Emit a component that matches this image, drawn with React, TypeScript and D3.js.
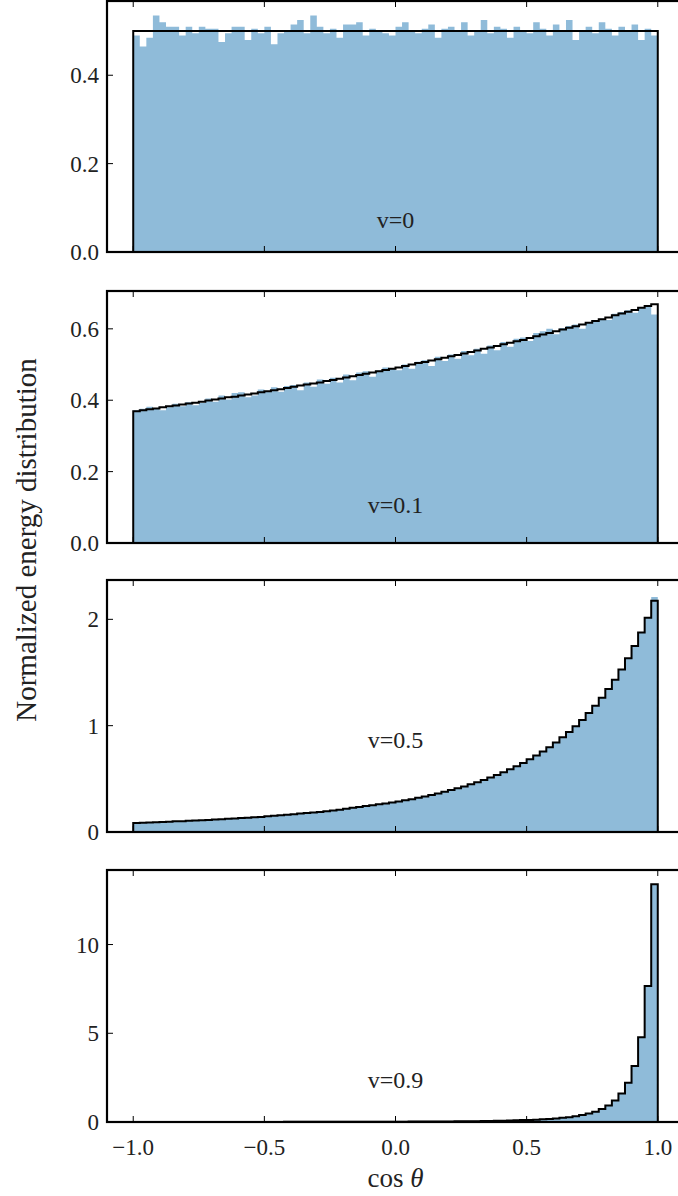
import React from "react";
import * as d3 from "d3";

// 80 bins on [-1, 1]
const binEdges: number[] = d3.range(81).map((i) => -1 + i * 0.025);

const blue0 = [
  0.49, 0.465, 0.485, 0.535, 0.52, 0.51, 0.51, 0.49, 0.51, 0.495,
  0.51, 0.505, 0.505, 0.475, 0.495, 0.51, 0.51, 0.48, 0.505, 0.495,
  0.51, 0.47, 0.495, 0.5, 0.515, 0.525, 0.495, 0.535, 0.51, 0.495,
  0.505, 0.485, 0.515, 0.515, 0.52, 0.49, 0.505, 0.5, 0.495, 0.49,
  0.51, 0.52, 0.5, 0.495, 0.505, 0.515, 0.485, 0.505, 0.51, 0.5,
  0.52, 0.49, 0.5, 0.525, 0.495, 0.51, 0.505, 0.485, 0.51, 0.5,
  0.495, 0.52, 0.505, 0.49, 0.515, 0.5, 0.525, 0.48, 0.5, 0.51,
  0.495, 0.52, 0.505, 0.49, 0.51, 0.5, 0.515, 0.48, 0.505, 0.49,
];
const line0 = [
  0.5, 0.5, 0.5, 0.5, 0.5, 0.5, 0.5, 0.5, 0.5, 0.5,
  0.5, 0.5, 0.5, 0.5, 0.5, 0.5, 0.5, 0.5, 0.5, 0.5,
  0.5, 0.5, 0.5, 0.5, 0.5, 0.5, 0.5, 0.5, 0.5, 0.5,
  0.5, 0.5, 0.5, 0.5, 0.5, 0.5, 0.5, 0.5, 0.5, 0.5,
  0.5, 0.5, 0.5, 0.5, 0.5, 0.5, 0.5, 0.5, 0.5, 0.5,
  0.5, 0.5, 0.5, 0.5, 0.5, 0.5, 0.5, 0.5, 0.5, 0.5,
  0.5, 0.5, 0.5, 0.5, 0.5, 0.5, 0.5, 0.5, 0.5, 0.5,
  0.5, 0.5, 0.5, 0.5, 0.5, 0.5, 0.5, 0.5, 0.5, 0.5,
];

const line1 = [
  0.369, 0.372, 0.375, 0.377, 0.38, 0.383, 0.385, 0.388, 0.391, 0.393,
  0.396, 0.399, 0.402, 0.405, 0.408, 0.41, 0.413, 0.416, 0.419, 0.422,
  0.425, 0.428, 0.431, 0.434, 0.438, 0.441, 0.444, 0.447, 0.45, 0.454,
  0.457, 0.46, 0.464, 0.467, 0.471, 0.474, 0.478, 0.481, 0.485, 0.488,
  0.492, 0.496, 0.5, 0.504, 0.507, 0.511, 0.515, 0.519, 0.523, 0.527,
  0.531, 0.535, 0.539, 0.544, 0.548, 0.552, 0.557, 0.561, 0.565, 0.569,
  0.574, 0.579, 0.584, 0.588, 0.593, 0.598, 0.603, 0.607, 0.612, 0.617,
  0.622, 0.627, 0.632, 0.638, 0.643, 0.648, 0.653, 0.659, 0.664, 0.669,
];
const blue1 = [
  0.372, 0.376, 0.382, 0.376, 0.372, 0.38, 0.39, 0.383, 0.394, 0.386,
  0.392, 0.405, 0.396, 0.413, 0.402, 0.42, 0.422, 0.408, 0.413, 0.43,
  0.423, 0.436, 0.424, 0.44, 0.443, 0.428, 0.45, 0.438, 0.458, 0.446,
  0.463, 0.45, 0.472, 0.456, 0.478, 0.481, 0.466, 0.483, 0.492, 0.49,
  0.484, 0.5, 0.488, 0.508, 0.512, 0.496, 0.522, 0.51, 0.528, 0.516,
  0.538, 0.526, 0.544, 0.53, 0.553, 0.54, 0.563, 0.55, 0.572, 0.576,
  0.566, 0.588, 0.593, 0.6, 0.585, 0.602, 0.608, 0.612, 0.6, 0.618,
  0.624, 0.628, 0.625, 0.642, 0.647, 0.652, 0.645, 0.66, 0.662, 0.64,
];

const line2 = [
  0.085, 0.087, 0.09, 0.092, 0.095, 0.097, 0.1, 0.102, 0.105, 0.107,
  0.11, 0.114, 0.117, 0.121, 0.124, 0.128, 0.131, 0.135, 0.139, 0.142,
  0.147, 0.152, 0.157, 0.163, 0.168, 0.173, 0.179, 0.184, 0.189, 0.195,
  0.202, 0.21, 0.218, 0.227, 0.235, 0.244, 0.252, 0.26, 0.269, 0.277,
  0.287, 0.298, 0.309, 0.322, 0.335, 0.348, 0.363, 0.378, 0.394, 0.411,
  0.429, 0.448, 0.468, 0.49, 0.512, 0.537, 0.562, 0.59, 0.619, 0.65,
  0.684, 0.719, 0.758, 0.798, 0.842, 0.89, 0.94, 0.995, 1.054, 1.118,
  1.187, 1.262, 1.344, 1.432, 1.529, 1.634, 1.749, 1.876, 2.015, 2.175,
];
const blue2 = [
  0.085, 0.087, 0.09, 0.092, 0.095, 0.097, 0.1, 0.102, 0.105, 0.107,
  0.11, 0.114, 0.117, 0.121, 0.124, 0.128, 0.131, 0.135, 0.139, 0.142,
  0.147, 0.152, 0.157, 0.163, 0.168, 0.173, 0.179, 0.184, 0.189, 0.195,
  0.202, 0.21, 0.218, 0.227, 0.235, 0.244, 0.252, 0.26, 0.269, 0.277,
  0.287, 0.298, 0.309, 0.322, 0.335, 0.348, 0.363, 0.378, 0.394, 0.411,
  0.429, 0.448, 0.468, 0.49, 0.512, 0.537, 0.562, 0.59, 0.619, 0.65,
  0.684, 0.719, 0.758, 0.798, 0.842, 0.89, 0.94, 0.995, 1.054, 1.118,
  1.187, 1.262, 1.344, 1.432, 1.529, 1.634, 1.749, 1.876, 2.015, 2.21,
];

const line3 = [
  0.0027, 0.0028, 0.0029, 0.003, 0.0031, 0.0032, 0.0034, 0.0035, 0.0037, 0.0038,
  0.004, 0.0042, 0.0044, 0.0046, 0.0048, 0.005, 0.0052, 0.0055, 0.0057, 0.006,
  0.0063, 0.0067, 0.007, 0.0074, 0.0078, 0.0083, 0.0088, 0.0093, 0.0099, 0.0105,
  0.011, 0.012, 0.0128, 0.0137, 0.0146, 0.0156, 0.0166, 0.0177, 0.019, 0.0205,
  0.0187, 0.02, 0.0215, 0.023, 0.0248, 0.0268, 0.029, 0.0314, 0.0342, 0.0372,
  0.0405, 0.0442, 0.049, 0.054, 0.06, 0.067, 0.075, 0.085, 0.096, 0.108,
  0.1154, 0.1312, 0.15, 0.1725, 0.1997, 0.2331, 0.2742, 0.3257, 0.3909, 0.4748,
  0.5844, 0.7306, 0.93, 1.209, 1.611, 2.214, 3.16, 4.78, 7.66, 13.4,
];
const blue3 = line3;

const panels = [
  { label: "v=0", blue: blue0, line: line0, yMax: 0.568, ticks: [0, 0.2, 0.4], fmt: (d: number) => d.toFixed(1), top: 1, bottom: 252, labelY: 220 },
  { label: "v=0.1", blue: blue1, line: line1, yMax: 0.706, ticks: [0, 0.2, 0.4, 0.6], fmt: (d: number) => d.toFixed(1), top: 291, bottom: 543, labelY: 505 },
  { label: "v=0.5", blue: blue2, line: line2, yMax: 2.37, ticks: [0, 1, 2], fmt: (d: number) => String(d), top: 580, bottom: 832, labelY: 740 },
  { label: "v=0.9", blue: blue3, line: line3, yMax: 14.2, ticks: [0, 5, 10], fmt: (d: number) => String(d), top: 870, bottom: 1122, labelY: 1080 },
];
const xTicks = [-1.0, -0.5, 0.0, 0.5, 1.0];
const xTickLabels = ["\u22121.0", "\u22120.5", "0.0", "0.5", "1.0"];

const FONT = "'Liberation Serif', 'DejaVu Serif', serif";
const BLUE = "#8fbbd9";

export default function App() {
  const x = d3.scaleLinear().domain([-1.1, 1.1]).range([107, 684]);
  return (
    <svg width={678} height={1196} style={{ position: "absolute", left: 0, top: 0 }} fontFamily={FONT}>
      {panels.map((p, pi) => {
        const y = d3.scaleLinear().domain([0, p.yMax]).range([p.bottom, p.top]);
        const stepPts = (vals: number[]): [number, number][] => {
          const pts: [number, number][] = [[x(-1), y(0)]];
          vals.forEach((v, i) => {
            pts.push([x(binEdges[i]), y(v)]);
            pts.push([x(binEdges[i + 1]), y(v)]);
          });
          pts.push([x(1), y(0)]);
          return pts;
        };
        const line = d3.line();
        return (
          <g key={pi}>
            <path d={line(stepPts(p.blue))! + "Z"} fill={BLUE} stroke="none" />
            <path d={line(stepPts(p.line))!} fill="none" stroke="#000" strokeWidth={2} strokeLinejoin="miter" />
            <rect x={x(-1.1)} y={p.top} width={x(1.1) - x(-1.1)} height={p.bottom - p.top} fill="none" stroke="#000" strokeWidth={2.2} />
            {xTicks.map((t, i) => (
              <g key={i}>
                <line x1={x(t)} x2={x(t)} y1={p.bottom} y2={p.bottom - 6} stroke="#000" strokeWidth={1} />
                <line x1={x(t)} x2={x(t)} y1={p.top} y2={p.top + 6} stroke="#000" strokeWidth={1} />
              </g>
            ))}
            {p.ticks.map((t, i) => (
              <g key={i}>
                <line x1={x(-1.1)} x2={x(-1.1) + 6} y1={y(t)} y2={y(t)} stroke="#000" strokeWidth={1} />
                <text x={x(-1.1) - 8} y={y(t)} dy="0.35em" textAnchor="end" fontSize={23} fill="#222">{p.fmt(t)}</text>
              </g>
            ))}
            <text x={x(0)} y={p.labelY} dy="0.35em" textAnchor="middle" fontSize={24} fill="#222">{p.label}</text>
          </g>
        );
      })}
      {xTicks.map((t, i) => (
        <text key={i} x={x(t)} y={1155} textAnchor="middle" fontSize={23} fill="#222">{xTickLabels[i]}</text>
      ))}
      <text x={x(0)} y={1187} textAnchor="middle" fontSize={27} fill="#222">
        cos <tspan fontStyle="italic">θ</tspan>
      </text>
      <text transform="translate(36,540) rotate(-90)" textAnchor="middle" fontSize={29} fill="#222">Normalized energy distribution</text>
    </svg>
  );
}
